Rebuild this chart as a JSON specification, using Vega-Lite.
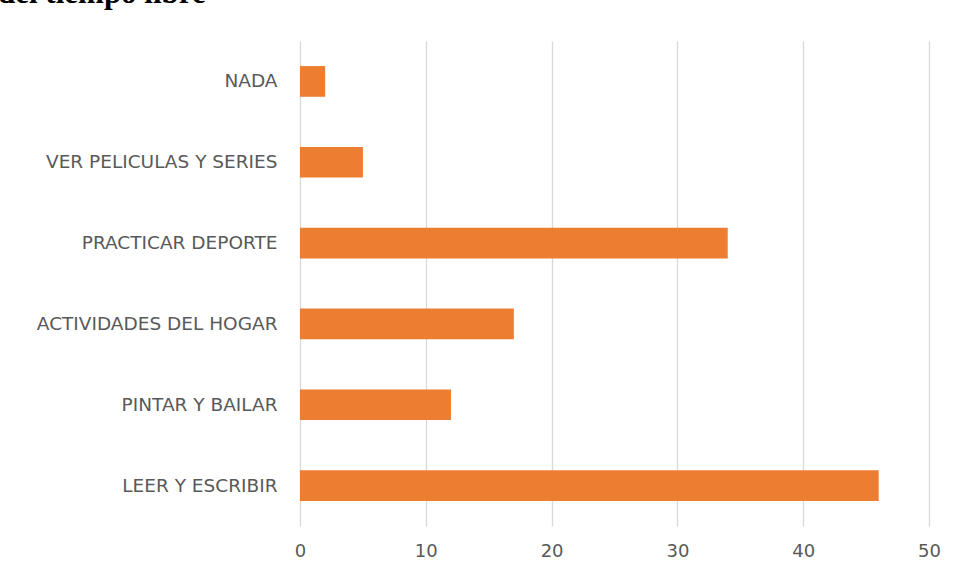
{
  "$schema": "https://vega.github.io/schema/vega-lite/v6.json",
  "autosize": {"type": "none"},
  "padding": {"left": 300, "top": 41, "right": 28, "bottom": 55},
  "width": 629,
  "height": 485,
  "background": "white",
  "title": {
    "text": "del tiempo libre",
    "font": "Liberation Serif",
    "fontSize": 31,
    "fontWeight": "bold",
    "color": "#000000",
    "anchor": "start",
    "frame": "group",
    "baseline": "alphabetic",
    "offset": 7,
    "dx": -302
  },
  "data": {
    "values": [
      {"actividad": "NADA", "valor": 2},
      {"actividad": "VER PELICULAS Y SERIES", "valor": 5},
      {"actividad": "PRACTICAR DEPORTE", "valor": 34},
      {"actividad": "ACTIVIDADES DEL HOGAR", "valor": 17},
      {"actividad": "PINTAR Y BAILAR", "valor": 12},
      {"actividad": "LEER Y ESCRIBIR", "valor": 46}
    ]
  },
  "mark": {"type": "bar", "color": "#ED7D31"},
  "encoding": {
    "y": {
      "field": "actividad",
      "type": "nominal",
      "sort": null,
      "scale": {"paddingInner": 0.62, "paddingOuter": 0.31},
      "axis": {
        "title": null,
        "domain": false,
        "ticks": false,
        "grid": false,
        "labelFont": "DejaVu Sans",
        "labelFontSize": 18.5,
        "labelColor": "#595959",
        "labelPadding": 23,
        "labelLimit": 400
      }
    },
    "x": {
      "field": "valor",
      "type": "quantitative",
      "scale": {"domain": [0, 50], "nice": false},
      "axis": {
        "title": null,
        "values": [0, 10, 20, 30, 40, 50],
        "domain": false,
        "ticks": false,
        "grid": true,
        "gridColor": "#D9D9D9",
        "gridWidth": 1.3,
        "labelFont": "DejaVu Sans",
        "labelFontSize": 18,
        "labelColor": "#595959",
        "labelPadding": 16,
        "labelFlush": false
      }
    }
  },
  "config": {"view": {"stroke": null}}
}
